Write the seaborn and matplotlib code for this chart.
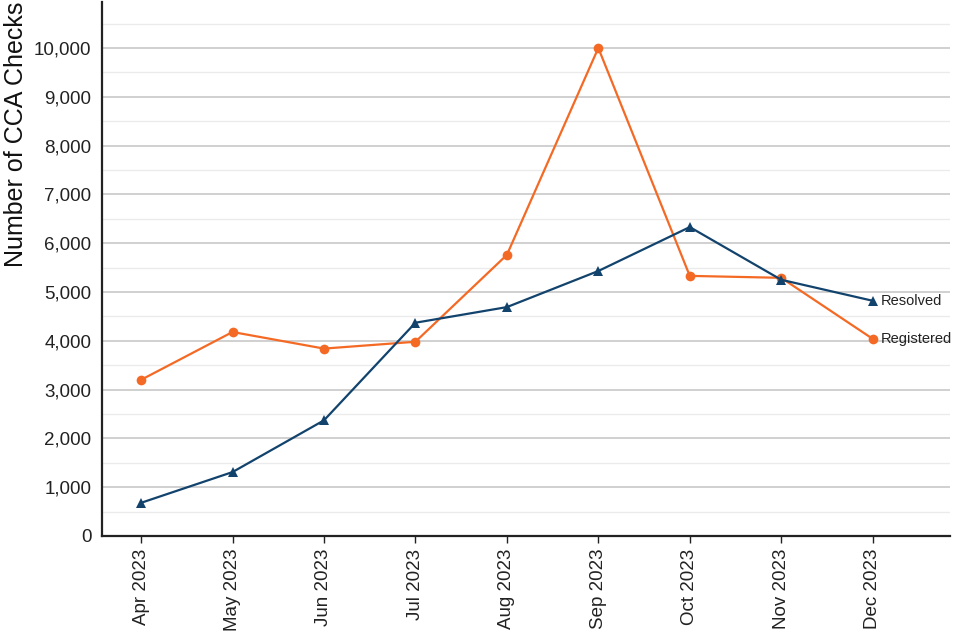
import pandas as pd
import numpy as np
import seaborn as sns
import matplotlib.pyplot as plt
from matplotlib.ticker import FuncFormatter, MultipleLocator

# data
months = ["Apr 2023", "May 2023", "Jun 2023", "Jul 2023", "Aug 2023",
          "Sep 2023", "Oct 2023", "Nov 2023", "Dec 2023"]
registered = [3200, 4180, 3840, 3980, 5760, 10000, 5330, 5290, 4040]
resolved = [680, 1310, 2370, 4370, 4690, 5430, 6330, 5250, 4820]

df = pd.DataFrame({
    "Month": months * 2,
    "Checks": registered + resolved,
    "Series": ["Registered"] * len(months) + ["Resolved"] * len(months),
})

sns.set_style("white")
plt.rcParams['font.family'] = ['Liberation Sans', 'DejaVu Sans']

fig = plt.figure(figsize=(9.6, 6.4), dpi=100)
ax = fig.add_axes([0.106, 0.1625, 0.884, 0.835])

colours = {"Registered": "#f46a25", "Resolved": "#12436d"}
sns.lineplot(data=df, x="Month", y="Checks", hue="Series", style="Series",
             palette=colours, markers={"Registered": "o", "Resolved": "^"},
             dashes=False, markersize=7, markeredgewidth=0, linewidth=1.6,
             legend=False, ax=ax, sort=False)

# labels at the end of each line
for name, vals in [("Resolved", resolved), ("Registered", registered)]:
    ax.annotate(name, xy=(len(months) - 1, vals[-1]), xytext=(6, 0),
                textcoords="offset points", va="center", ha="left",
                fontsize=10.5, color="#222222")

ax.set_xlim(-0.43, len(months) - 1 + 0.85)
ax.set_ylim(0, 10950)
ax.yaxis.set_major_locator(MultipleLocator(1000))
ax.yaxis.set_minor_locator(MultipleLocator(500))
ax.yaxis.set_major_formatter(FuncFormatter(lambda v, p: f"{int(v):,}"))
ax.grid(which="major", axis="y", color="#d0d0d0", linewidth=1.4)
ax.grid(which="minor", axis="y", color="#ebebeb", linewidth=1.0)
ax.set_axisbelow(True)

ax.set_xlabel("")
ax.set_ylabel("Number of CCA Checks", fontsize=18, color="#111111",
              loc="top", labelpad=4)
plt.setp(ax.get_xticklabels(), rotation=90)
ax.tick_params(axis="x", labelsize=13.5, bottom=True, length=5, width=1,
               colors="#222222", pad=4)
ax.tick_params(axis="y", labelsize=13.5, left=False, colors="#222222", pad=4)

for side in ["top", "right"]:
    ax.spines[side].set_visible(False)
for side in ["left", "bottom"]:
    ax.spines[side].set_color("#222222")
    ax.spines[side].set_linewidth(1.6)

fig.savefig("out.png", dpi=100)
